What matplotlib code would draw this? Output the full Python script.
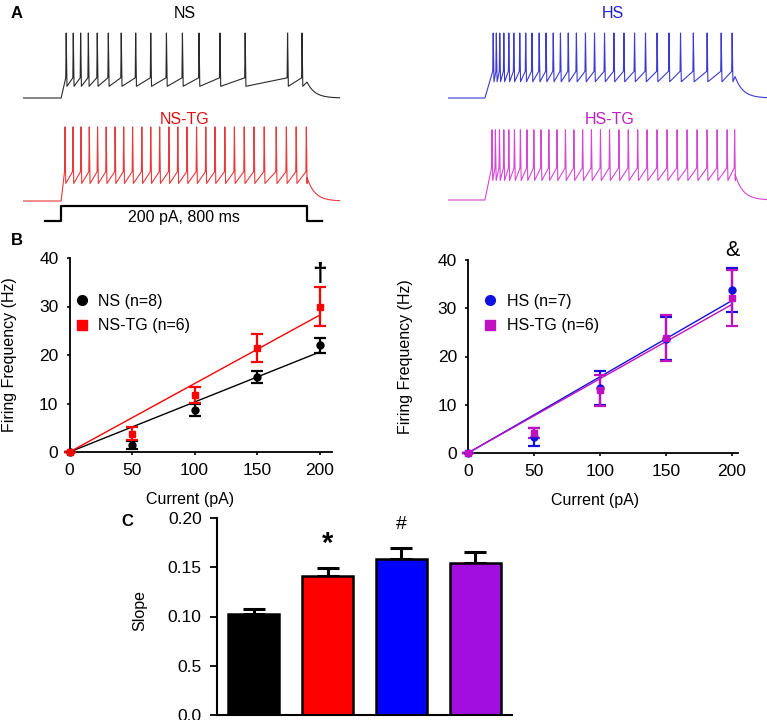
import numpy as np
import matplotlib
matplotlib.use('Agg')
import matplotlib.pyplot as plt
from matplotlib.lines import Line2D

plt.rcParams['font.family'] = ['Liberation Sans', 'DejaVu Sans']

# ---- Panel A: spike times (ms after step onset)
ns_spikes = [15, 38, 62, 87, 116, 152, 194, 241, 290, 341, 393, 447, 515, 597, 735, 782]
nstg_spikes = [11, 37, 63, 90, 117, 145, 174, 202, 231, 261, 290, 319, 349, 378, 408,
               439, 469, 499, 531, 562, 594, 626, 659, 698, 731, 763, 796]
hs_spikes = [25, 35, 46, 59, 75, 91, 110, 129, 149, 172, 194, 217, 240, 265, 291, 320,
             349, 381, 411, 443, 477, 512, 549, 587, 624, 665, 709, 754, 789]
hstg_spikes = [21, 32, 45, 59, 75, 93, 112, 133, 155, 178, 203, 229, 256, 283, 311, 339,
               368, 397, 427, 457, 487, 517, 549, 581, 613, 645, 677, 709, 741, 773, 797]
# peak, trough, threshold (mV)
ns_levels = (30, -52, -39)
nstg_levels = (44, -43, -25)
hs_levels = (30, -45, -29)
hstg_levels = (38, -40, -21)
stim_t = [-52, 0, 0, 800, 800, 849]
stim_pa = [0, 0, 200, 200, 0, 0]

# ---- Panel B: firing frequency vs current
current = [0, 50, 100, 150, 200]
ns_freq = [0, 1.5, 8.7, 15.5, 22.0]
ns_err = [0, 0.8, 1.2, 1.2, 1.6]
nstg_freq = [0, 3.8, 11.8, 21.5, 30.0]
nstg_err = [0, 1.4, 1.7, 2.9, 4.0]
hs_freq = [0, 3.3, 13.5, 23.7, 33.8]
hs_err = [0, 1.8, 3.5, 4.5, 4.5]
hstg_freq = [0, 4.2, 13.0, 23.8, 32.2]
hstg_err = [0, 1.0, 3.2, 4.8, 5.8]

# ---- Panel C: slopes
groups = ['NS', 'NS-TG', 'HS', 'HS-TG']
slope = [0.103, 0.141, 0.158, 0.154]
slope_err = [0.005, 0.008, 0.012, 0.011]
bar_colors = ['#000000', '#ff0000', '#0000ff', '#a30ee0']

W, H = 767, 720
fig = plt.figure(figsize=(W / 100, H / 100), dpi=100)


def px_axes(x0, y0, x1, y1):
    return fig.add_axes([x0 / W, 1 - y1 / H, (x1 - x0) / W, (y1 - y0) / H])


def build_trace(spikes, levels, t0, t1):
    peak, trough, thr = levels
    t = [t0, 0]
    v = [-70, -70]
    for ts in spikes:
        t += [ts, ts + 1.5, ts + 4]
        v += [thr, peak, trough]
    plateau = (trough + thr) / 2
    t += [800]
    v += [plateau]
    tt = np.linspace(800, t1, 40)
    vv = -70 + (plateau + 70) * np.exp(-(tt - 800) / 25.0)
    return np.r_[t, tt], np.r_[v, vv]


def trace_axes(x0, x1, base_y, t0, t1):
    ax = px_axes(x0, base_y - 0.65 * 120, x1, base_y + 0.65 * 5)
    ax.set_xlim(t0, t1)
    ax.set_ylim(-75, 50)
    ax.axis('off')
    return ax


panels_a = [
    (ns_spikes, ns_levels, '#2a2a2a', 23, 340, 98, -124, 907),
    (nstg_spikes, nstg_levels, '#e83a3a', 23, 340, 201, -124, 907),
    (hs_spikes, hs_levels, '#3b3bd2', 448, 767, 98, -118, 902),
    (hstg_spikes, hstg_levels, '#d548d5', 448, 767, 200, -118, 902),
]
for spikes, levels, col, x0, x1, by, t0, t1 in panels_a:
    ax = trace_axes(x0, x1, by, t0, t1)
    t, v = build_trace(spikes, levels, t0, t1)
    ax.plot(t, v, color=col, lw=0.8)

ax_s = px_axes(23, 202.25, 340, 224.75)
ax_s.set_xlim(-124, 907)
ax_s.set_ylim(-50, 250)
ax_s.axis('off')
ax_s.plot(stim_t, stim_pa, color='black', lw=1.6)
ax_s.text(400, 40, '200 pA, 800 ms', ha='center', va='center', fontsize=11.5)


def ftext(x, y, s, **kw):
    fig.text(x / W, 1 - y / H, s, ha=kw.pop('ha', 'center'), va='center', **kw)


ftext(11, 13, 'A', ha='left', fontsize=12, fontweight='bold')
ftext(11, 241, 'B', ha='left', fontsize=12, fontweight='bold')
ftext(121, 522, 'C', ha='left', fontsize=12, fontweight='bold')
ftext(185, 13, 'NS', fontsize=11.5, color='black')
ftext(185, 119, 'NS-TG', fontsize=11.5, color='#e01010')
ftext(613, 13, 'HS', fontsize=11.5, color='#2020c8')
ftext(610, 119, 'HS-TG', fontsize=11.5, color='#c020c0')


# ---- Panel B
def style_b(ax, xmax, lab_x, ylab_x):
    ax.set_xlim(0, xmax)
    ax.set_ylim(0, 40)
    ax.set_xticks(current)
    ax.set_yticks([0, 10, 20, 30, 40])
    for s in ['top', 'right']:
        ax.spines[s].set_visible(False)
    for s in ['left', 'bottom']:
        ax.spines[s].set_linewidth(1.3)
    ax.tick_params(direction='out', length=2.5, width=1.2, pad=5.5, labelsize=12.5)
    ax.set_xlabel('Current (pA)', fontsize=11.5)
    ax.set_ylabel('Firing Frequency (Hz)', fontsize=11.5)
    ax.xaxis.set_label_coords(lab_x, -0.205)
    ax.yaxis.set_label_coords(ylab_x, 0.5)


def curve(ax, y, err, col, marker, k):
    fit_x = np.array([0, 200])
    ax.plot(fit_x, k * fit_x, color=col, lw=1.0, zorder=2)
    ax.errorbar(current, y, yerr=err, fmt=marker, color=col, ms=5, elinewidth=1.6,
                capsize=4.5, capthick=1.6, clip_on=False, zorder=3)


ax_b1 = px_axes(69.5, 258, 332, 452)
curve(ax_b1, ns_freq, ns_err, 'black', 'o', slope[0])
curve(ax_b1, nstg_freq, nstg_err, '#ff0000', 's', slope[1])
style_b(ax_b1, 210, 0.459, -0.2)
ax_b1.text(200, 36.6, '\u2020', ha='center', va='center', fontsize=19, fontweight='bold')
h1 = [Line2D([], [], ls='', marker='o', color='black', ms=7),
      Line2D([], [], ls='', marker='s', color='#ff0000', ms=7)]
ax_b1.legend(h1, ['NS (n=8)', 'NS-TG (n=6)'], loc='upper left', bbox_to_anchor=(0.025, 0.815),
             frameon=False, fontsize=11.5, handlelength=0.7, handletextpad=0.7,
             labelspacing=0.6, borderpad=0, borderaxespad=0)

ax_b2 = px_axes(468, 260, 738, 453)
curve(ax_b2, hs_freq, hs_err, '#1010e0', 'o', slope[2])
curve(ax_b2, hstg_freq, hstg_err, '#c010c0', 's', slope[3])
style_b(ax_b2, 204.5, 0.47, -0.204)
ax_b2.text(200, 42, '&', ha='center', va='center', fontsize=15.5, clip_on=False)
h2 = [Line2D([], [], ls='', marker='o', color='#1010e0', ms=7),
      Line2D([], [], ls='', marker='s', color='#c010c0', ms=7)]
ax_b2.legend(h2, ['HS (n=7)', 'HS-TG (n=6)'], loc='upper left', bbox_to_anchor=(0.06, 0.825),
             frameon=False, fontsize=11.5, handlelength=0.7, handletextpad=0.7,
             labelspacing=0.6, borderpad=0, borderaxespad=0)

# ---- Panel C
ax_c = px_axes(217, 518, 512, 715)
xpos = np.arange(len(groups))
ax_c.bar(xpos, slope, width=0.69, color=bar_colors, edgecolor='black', linewidth=1.8, zorder=2)
ax_c.errorbar(xpos, slope, yerr=[np.zeros(len(slope)), slope_err], fmt='none',
              ecolor='black', elinewidth=2.2, capsize=8, capthick=2.2, zorder=1)
ax_c.set_xlim(-0.5, 3.5)
ax_c.set_ylim(0, 0.2)
ax_c.set_yticks([0, 0.05, 0.10, 0.15, 0.20])
ax_c.set_yticklabels(['0.0', '0.5', '0.10', '0.15', '0.20'])
ax_c.set_xticks([])
for s in ['top', 'right']:
    ax_c.spines[s].set_visible(False)
for s in ['left', 'bottom']:
    ax_c.spines[s].set_linewidth(1.5)
ax_c.tick_params(direction='out', length=5, width=1.3, pad=6, labelsize=12.5)
ax_c.set_ylabel('Slope', fontsize=11.5)
ax_c.yaxis.set_label_coords(-0.235, 0.53)
ax_c.text(1, 0.174, '*', ha='center', va='center', fontsize=21, fontweight='bold')
ax_c.text(2, 0.193, '#', ha='center', va='center', fontsize=14)

fig.savefig('out.png', dpi=100)
